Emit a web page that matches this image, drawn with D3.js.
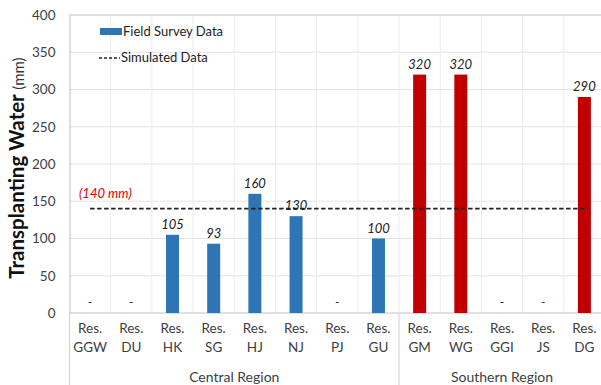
<!DOCTYPE html>
<html><head><meta charset="utf-8">
<script src="https://cdn.jsdelivr.net/npm/d3@7"></script>
<style>body{margin:0;background:#fff}svg{display:block}</style>
</head><body><svg id="c" width="601" height="385"></svg>
<script>
const categories = ["GGW","DU","HK","SG","HJ","NJ","PJ","GU","GM","WG","GGI","JS","DG"];
const regions = ["Central","Central","Central","Central","Central","Central","Central","Central","Southern","Southern","Southern","Southern","Southern"];
const regionNames = ["Central Region","Southern Region"];
const surveyValues = [null,null,105,93,160,130,null,100,320,320,null,null,290];
const simulatedValue = 140;
const yTicks = [0,50,100,150,200,250,300,350,400];

const font = "Lato, 'Open Sans', sans-serif";
const svg = d3.select("#c");
const m = {l:69.5, t:15, r:605, b:313};
const x = d3.scaleBand().domain(categories).range([m.l, m.r]).paddingInner(0).paddingOuter(0);
const y = d3.scaleLinear().domain([0,400]).range([m.b, m.t]);
const bw = 13;
const colorFor = r => r === "Central" ? "#2E75B6" : "#C00000";

// grid
const g = svg.append("g");
g.selectAll("line.h").data(yTicks).join("line")
  .attr("x1", m.l).attr("x2", m.r).attr("y1", d=>y(d)).attr("y2", d=>y(d))
  .attr("stroke", d => d===400 ? "#bfbfbf" : "#e3e3e3").attr("stroke-width",1);
g.selectAll("line.v").data(categories.slice(1)).join("line")
  .attr("x1", d=>x(d)).attr("x2", d=>x(d)).attr("y1", m.t).attr("y2", m.b)
  .attr("stroke", "#ececec");

// y axis
const yAxis = d3.axisLeft(y).tickValues(yTicks).tickSize(0).tickPadding(14);
const ya = svg.append("g").attr("transform", `translate(${m.l},0)`).call(yAxis);
ya.select(".domain").attr("stroke","#bfbfbf");
ya.selectAll("text").attr("font-family", font).attr("font-size", 13.5).attr("fill","#404040");

// x axis line
svg.append("line").attr("x1", m.l).attr("x2", m.r).attr("y1", y(0)).attr("y2", y(0)).attr("stroke","#d0d0d0");

// bars
const data = categories.map((c,i)=>({c, v: surveyValues[i], r: regions[i]}));
svg.append("g").selectAll("rect").data(data.filter(d=>d.v!==null)).join("rect")
  .attr("x", d=>x(d.c)+x.bandwidth()/2-bw/2).attr("width", bw)
  .attr("y", d=>y(d.v)).attr("height", d=>y(0)-y(d.v))
  .attr("fill", d=>colorFor(d.r));

// value labels
svg.append("g").selectAll("text").data(data).join("text")
  .attr("x", d=>x(d.c)+x.bandwidth()/2)
  .attr("y", d=> d.v===null ? y(0)-7 : y(d.v)-6)
  .attr("text-anchor","middle").attr("font-family", font)
  .attr("font-size", d=> d.v===null ? 12 : 13).attr("font-style", d=> d.v===null ? "normal":"italic")
  .attr("fill","#222")
  .text(d=> d.v===null ? "-" : d.v);

// simulated line
svg.append("line")
  .attr("x1", x(categories[0])+x.bandwidth()/2).attr("x2", x(categories[categories.length-1])+x.bandwidth()/2)
  .attr("y1", y(simulatedValue)).attr("y2", y(simulatedValue))
  .attr("stroke","#222").attr("stroke-width",1.7).attr("stroke-dasharray","4.5,2.5");
svg.append("text").attr("x", 79).attr("y", y(simulatedValue)-11)
  .attr("font-family", font).attr("font-size", 13).attr("font-style","italic").attr("fill","#e00000")
  .text(`(${simulatedValue} mm)`);

// category labels
const cl = svg.append("g").selectAll("text").data(categories).join("text")
  .attr("x", d=>x(d)+x.bandwidth()/2).attr("text-anchor","middle")
  .attr("font-family", font).attr("font-size", 13.5).attr("fill","#404040");
cl.append("tspan").attr("x", d=>x(d)+x.bandwidth()/2).attr("y", 333).text("Res.");
cl.append("tspan").attr("x", d=>x(d)+x.bandwidth()/2).attr("y", 352).text(d=>d);

// region separators & labels
regionNames.forEach((rn,k)=>{
  const key = rn.split(" ")[0];
  const cats = categories.filter((c,i)=>regions[i]===key);
  const x0 = x(cats[0]), x1 = x(cats[cats.length-1]) + x.bandwidth();
  svg.append("line").attr("x1", x0).attr("x2", x0).attr("y1", y(0)).attr("y2", 385).attr("stroke","#d0d0d0");
  svg.append("text").attr("x", (x0+x1)/2).attr("y", 382).attr("text-anchor","middle")
    .attr("font-family", font).attr("font-size", 14).attr("fill","#404040").text(rn);
});

// y title
const yt = svg.append("text").attr("transform", `translate(24,168) rotate(-90)`)
  .attr("text-anchor","middle").attr("font-family", font).attr("fill","#111");
yt.append("tspan").attr("font-weight","bold").attr("font-size",20.5).text("Transplanting Water ");
yt.append("tspan").attr("font-size",15).attr("fill","#333").text("(mm)");

// legend
const lg = svg.append("g");
lg.append("rect").attr("x",100).attr("y",28).attr("width",22).attr("height",7).attr("fill","#2E75B6");
lg.append("text").attr("x",123).attr("y",36).attr("font-family", font).attr("font-size",13).attr("fill","#222").text("Field Survey Data");
lg.append("line").attr("x1",99).attr("x2",120).attr("y1",58).attr("y2",58).attr("stroke","#222").attr("stroke-width",1.5).attr("stroke-dasharray","3,2");
lg.append("text").attr("x",121).attr("y",62).attr("font-family", font).attr("font-size",13).attr("fill","#222").text("Simulated Data");
</script></body></html>
